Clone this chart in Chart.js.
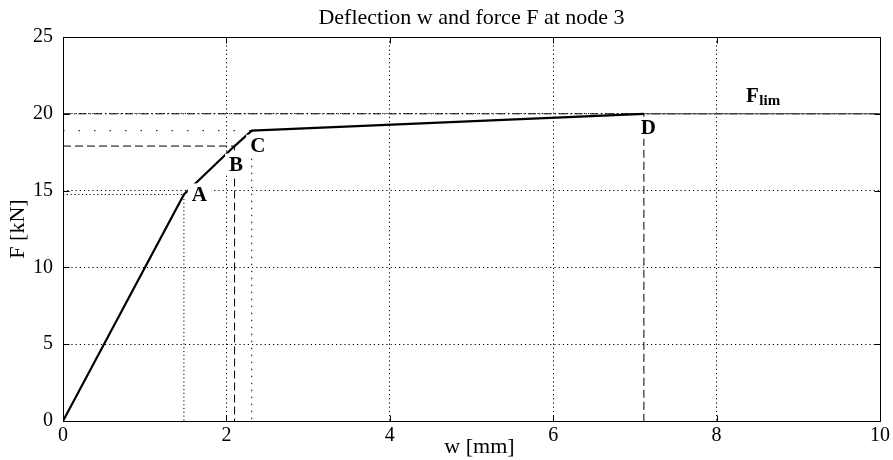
<!DOCTYPE html>
<html>
<head>
<meta charset="utf-8">
<title>Deflection w and force F at node 3</title>
<script src="https://cdn.jsdelivr.net/npm/chart.js@4.4.1/dist/chart.umd.min.js"></script>
<style>
  html, body { margin: 0; padding: 0; background: #fff; }
  #wrap { position: relative; width: 893px; height: 460px; }
</style>
</head>
<body>
<div id="wrap"><canvas id="chart"></canvas></div>
<script>
// Characteristic points of the force–deflection curve at node 3
const pointNames = ['A', 'B', 'C', 'D'];
const pointW = [1.48, 2.10, 2.31, 7.11];   // deflection w [mm]
const pointF = [14.75, 17.9, 18.9, 20.0];  // force F [kN]

// Limit force and plateau end
const forceLimit = 20;
const wMax = 10;

// Axis ticks
const xTicks = [0, 2, 4, 6, 8, 10];
const yTicks = [0, 5, 10, 15, 20, 25];

const FONT = "'Liberation Serif', 'Times New Roman', serif";

// curve: origin followed by the characteristic points
const curve = [{ x: 0, y: 0 }].concat(pointW.map((w, i) => ({ x: w, y: pointF[i] })));
const plateau = [{ x: pointW[3], y: pointF[3] }, { x: wMax, y: forceLimit }];
const limitLine = [{ x: 0, y: forceLimit }, { x: wMax, y: forceLimit }];

// helper lines from a point back to both axes
const hGuide = i => [{ x: 0, y: pointF[i] }, { x: pointW[i], y: pointF[i] }];
const vGuide = i => [{ x: pointW[i], y: pointF[i] }, { x: pointW[i], y: 0 }];
const lGuide = i => [{ x: 0, y: pointF[i] }, { x: pointW[i], y: pointF[i] }, { x: pointW[i], y: 0 }];

function lineSet(data, width, dash, color) {
  return {
    data, borderColor: color || '#000', borderWidth: width, borderDash: dash || [],
    pointRadius: 0, pointHoverRadius: 0, fill: false, tension: 0, showLine: true
  };
}

// Frame around the plot area, inward tick marks on all four sides, x-axis caption
const frameTicks = {
  id: 'frameTicks',
  afterDraw(chart) {
    const { ctx, chartArea: a, scales: { x, y } } = chart;
    const L = Math.round(a.left) + 0.5, R = Math.round(a.right) + 0.5;
    const T = Math.round(a.top) + 0.5, B = Math.round(a.bottom) + 0.5;
    const len = 6;
    ctx.save();
    ctx.strokeStyle = '#000';
    ctx.lineWidth = 1;
    ctx.setLineDash([]);
    ctx.beginPath();
    ctx.rect(L, T, R - L, B - T);
    x.ticks.forEach(t => {
      const px = Math.round(x.getPixelForValue(t.value)) + 0.5;
      ctx.moveTo(px, B); ctx.lineTo(px, B - len);
      ctx.moveTo(px, T); ctx.lineTo(px, T + len);
    });
    y.ticks.forEach(t => {
      const py = Math.round(y.getPixelForValue(t.value)) + 0.5;
      ctx.moveTo(L, py); ctx.lineTo(L + len, py);
      ctx.moveTo(R, py); ctx.lineTo(R - len, py);
    });
    ctx.stroke();

    ctx.fillStyle = '#000';
    ctx.font = '22px ' + FONT;
    ctx.textAlign = 'center';
    ctx.textBaseline = 'alphabetic';
    ctx.fillText('w [mm]', (a.left + a.right) / 2 + 8, a.bottom + 32);
    ctx.restore();
  }
};

// Point letters on a white box, and the F_lim annotation
const pointLabels = {
  id: 'pointLabels',
  afterDatasetsDraw(chart, args, opts) {
    const { ctx, scales: { x, y } } = chart;
    ctx.save();
    ctx.font = 'bold 21px ' + FONT;
    ctx.textAlign = 'center';
    ctx.textBaseline = 'middle';
    pointNames.forEach((name, i) => {
      const off = opts.offsets[i];
      const cx = x.getPixelForValue(pointW[i]) + off[0];
      const cy = y.getPixelForValue(pointF[i]) + off[1];
      const w = ctx.measureText(name).width;
      ctx.fillStyle = '#fff';
      ctx.fillRect(cx - w / 2 - 4, cy - 11, w + 8, 22);
      ctx.fillStyle = '#000';
      ctx.fillText(name, cx, cy + 1);
    });
    // F_lim
    const fx = x.getPixelForValue(opts.limitAnchor[0]);
    const fy = y.getPixelForValue(opts.limitAnchor[1]);
    ctx.textAlign = 'left';
    ctx.textBaseline = 'alphabetic';
    ctx.font = 'bold 21px ' + FONT;
    ctx.fillText('F', fx, fy);
    const fw = ctx.measureText('F').width;
    ctx.font = 'bold 15px ' + FONT;
    ctx.fillText('lim', fx + fw + 0.5, fy + 3);
    ctx.restore();
  }
};

new Chart(document.getElementById('chart'), {
  type: 'line',
  data: {
    datasets: [
      lineSet(curve, 2.2),
      lineSet(plateau, 1, [], '#444'),
      lineSet(limitLine, 1, [8, 3, 1.5, 3]),
      lineSet(lGuide(0), 1, [1.2, 2.6]),
      lineSet(lGuide(1), 1, [8, 4]),
      lineSet(hGuide(2), 1, [1.5, 14]),
      lineSet(vGuide(2), 1, [1.5, 5.5]),
      lineSet(vGuide(3), 1, [8, 4])
    ]
  },
  options: {
    responsive: true,
    maintainAspectRatio: false,
    animation: false,
    devicePixelRatio: 1,
    events: [],
    layout: { padding: { left: 0, right: 12, top: 0, bottom: 0 } },
    plugins: {
      legend: { display: false },
      tooltip: { enabled: false },
      title: {
        display: true,
        fullSize: false,
        text: 'Deflection w and force F at node 3',
        color: '#000',
        font: { family: FONT, size: 22, weight: 'normal', lineHeight: 1.2 },
        padding: { top: 5, bottom: 5.6 }
      },
      pointLabels: {
        offsets: [[15.5, 0], [1.5, 18.5], [6, 15], [4.5, 14]],
        limitAnchor: [8.36, 20.77]
      }
    },
    scales: {
      x: {
        type: 'linear',
        min: 0, max: 10,
        afterBuildTicks: s => { s.ticks = xTicks.map(v => ({ value: v })); },
        afterFit: s => { s.height = 39; },
        ticks: { color: '#000', padding: 3, maxRotation: 0, font: { family: FONT, size: 20 } },
        grid: { color: '#000', lineWidth: 1, drawTicks: false },
        border: { display: false, dash: [1.2, 3] }
      },
      y: {
        type: 'linear',
        min: 0, max: 25,
        afterBuildTicks: s => { s.ticks = yTicks.map(v => ({ value: v })); },
        afterFit: s => { s.width = 63; },
        ticks: { color: '#000', padding: 10, font: { family: FONT, size: 20 } },
        grid: { color: '#000', lineWidth: 1, drawTicks: false },
        border: { display: false, dash: [1.2, 3] },
        title: {
          display: true, text: 'F [kN]', color: '#000',
          font: { family: FONT, size: 22, lineHeight: 1.2 },
          padding: { top: 5, bottom: 0 }
        }
      }
    }
  },
  plugins: [frameTicks, pointLabels]
});
</script>
</body>
</html>
